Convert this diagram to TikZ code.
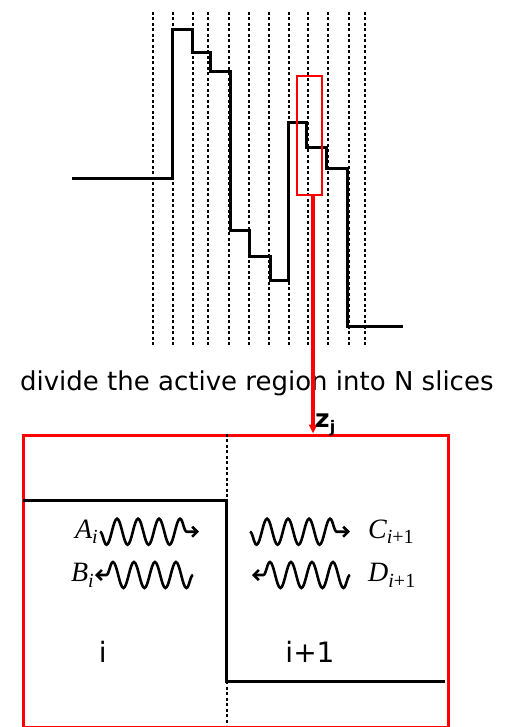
\documentclass[tikz,border=0pt]{standalone}
\usepackage{fontspec}
\setsansfont{DejaVu Sans}
\newfontfamily\lblfont{Liberation Serif}
\usepackage{xcolor}
\usetikzlibrary{arrows.meta,positioning,decorations.pathmorphing}
\definecolor{zoomred}{RGB}{255,0,0}
\newcommand{\sub}[1]{\raisebox{-0.45ex}{\fontsize{20}{20}\selectfont\itshape #1}}

\begin{document}
\begin{tikzpicture}[x=1pt, y=-1pt, every node/.style={inner sep=0pt},
  slice/.style={line width=1.7pt, dash pattern=on 3pt off 2.5pt},
  profile/.style={line width=3pt},
  lbl/.style={font=\lblfont\itshape\fontsize{28}{30}\selectfont},
  wave/.style={line width=2.6pt, -{Straight Barb[length=5pt,width=10pt]},
    decorate, decoration={snake, amplitude=13pt, segment length=21pt, post length=5pt}}]
\useasboundingbox (0,0) rectangle (505,727);
% slice boundaries
\foreach \x in {152.7,172.7,193.3,207.7,229,249.3,269.3,288.7,307.7,328.3,348.7,365.3}
  \draw[slice] (\x,12) -- (\x,345);
% stepped profile of the active region
\draw[profile] (71.7,178.3) -| (172.7,29.3) -| (192.7,52.7) -| (210.7,71.7)
  -| (230,230) -| (249.3,256.7) -| (270,280) -| (288.7,122.7) -| (306.7,147.3)
  -| (326.7,168.3) -| (347.7,326) -- (403.3,326);
\node[draw=zoomred, line width=2pt, minimum width=25pt, minimum height=119pt] (win) at (309.2,135.5) {};
\node[font=\sffamily\fontsize{26}{30}\selectfont, anchor=base] (caption) at (256.8,390)
  {divide the active region into N slices};
% zoomed view of two slices
\node[draw=zoomred, line width=3pt, minimum width=425pt, minimum height=292pt,
  anchor=north west] (zoom) at (21.7,433.5) {};
\draw[slice] (226.7,433.5) -- (226.7,725);
\draw[profile] (23.2,500) -| (226.7,681.7) -- (445.2,681.7);
\coordinate (src) at (313,195);
\draw[zoomred, line width=3.2pt, -{Triangle[length=9pt,width=8pt]}] (src) -- (src |- zoom.north);
\node[font=\sffamily\bfseries\fontsize{25}{28}\selectfont, anchor=base west] (zj) at (315,427)
  {z\raisebox{-0.4ex}{\fontsize{16}{16}\selectfont j}};
% exchange between neighbouring slices
\coordinate (a1) at (100,531.7); \coordinate (a2) at (199,531.7);
\coordinate (b1) at (193,575);   \coordinate (b2) at (95,575);
\coordinate (c1) at (250,531.7); \coordinate (c2) at (350,531.7);
\coordinate (d1) at (350,575);   \coordinate (d2) at (252,575);
\draw[wave, decoration={mirror}] (a1) -- (a2);
\draw[wave] (b1) -- (b2);
\draw[wave, decoration={mirror}] (c1) -- (c2);
\draw[wave] (d1) -- (d2);
\node[lbl, left=2pt of a1] (A) {A\sub{i}};
\node[lbl, left=1pt of b2] (B) {B\sub{i}};
\node[lbl, right=18pt of c2] (C) {C\sub{i\upshape+1}};
\node[lbl, right=18pt of d1] (D) {D\sub{i\upshape+1}};
\node[font=\sffamily\fontsize{28}{32}\selectfont, anchor=base] (si) at (102.7,662.7) {i};
\node[font=\sffamily\fontsize{28}{32}\selectfont, anchor=base] (sj) at (310,662.7) {i+1};
\end{tikzpicture}
\end{document}
